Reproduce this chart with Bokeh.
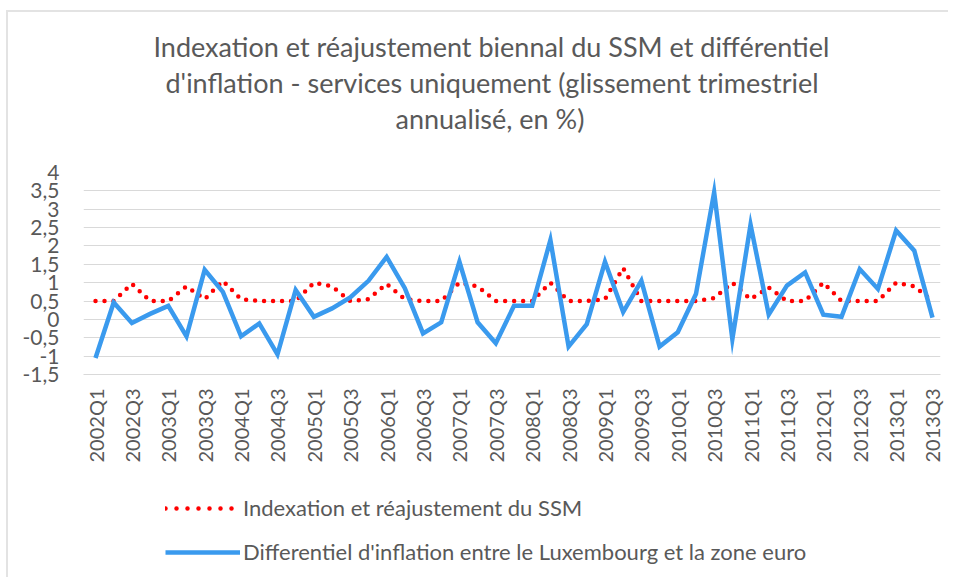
import math
from bokeh.plotting import figure
from bokeh.layouts import column
from bokeh.models import (Range1d, FixedTicker, CustomJSTickFormatter, Title,
                          Legend, LegendItem)
from bokeh.embed import file_html
from bokeh.resources import INLINE

quarters = ["2002Q1", "2002Q2", "2002Q3", "2002Q4",
            "2003Q1", "2003Q2", "2003Q3", "2003Q4",
            "2004Q1", "2004Q2", "2004Q3", "2004Q4",
            "2005Q1", "2005Q2", "2005Q3", "2005Q4",
            "2006Q1", "2006Q2", "2006Q3", "2006Q4",
            "2007Q1", "2007Q2", "2007Q3", "2007Q4",
            "2008Q1", "2008Q2", "2008Q3", "2008Q4",
            "2009Q1", "2009Q2", "2009Q3", "2009Q4",
            "2010Q1", "2010Q2", "2010Q3", "2010Q4",
            "2011Q1", "2011Q2", "2011Q3", "2011Q4",
            "2012Q1", "2012Q2", "2012Q3", "2012Q4",
            "2013Q1", "2013Q2", "2013Q3"]

ssm = [0.5, 0.5, 0.97, 0.5, 0.5, 0.9, 0.55, 1.05, 0.55, 0.5, 0.5, 0.5,
       1.0, 0.9, 0.5, 0.55, 0.97, 0.55, 0.5, 0.5, 1.0, 0.9, 0.5, 0.5,
       0.5, 1.0, 0.5, 0.5, 0.55, 1.4, 0.5, 0.5, 0.5, 0.5, 0.58, 1.0,
       0.55, 0.87, 0.5, 0.5, 1.0, 0.5, 0.5, 0.5, 1.0, 0.9, 0.5]

diff = [-1.05, 0.46, -0.1, 0.15, 0.37, -0.46, 1.35, 0.75, -0.46, -0.11,
        -0.95, 0.8, 0.07, 0.3, 0.6, 1.05, 1.7, 0.85, -0.38, -0.08, 1.57,
        -0.08, -0.65, 0.37, 0.37, 2.16, -0.74, -0.13, 1.57, 0.2, 1.05,
        -0.74, -0.35, 0.69, 3.46, -0.54, 2.58, 0.13, 0.92, 1.28, 0.13,
        0.07, 1.37, 0.83, 2.42, 1.87, 0.05]

y_ticks = [-1.5, -1, -0.5, 0, 0.5, 1, 1.5, 2, 2.5, 3, 3.5, 4]

title_lines = ["Indexation et réajustement biennal du SSM et différentiel",
               "d'inflation - services uniquement (glissement trimestriel",
               "annualisé, en %)"]

legend_labels = ["Indexation et réajustement du SSM",
                 "Differentiel d'inflation entre le Luxembourg et la zone euro"]

FONT = "Lato"
GREY = "#595959"
RED = "#ff0000"
BLUE = "#3a9aee"

x = list(range(len(quarters)))

p = figure(width=940, height=453, output_backend="svg", toolbar_location=None,
           x_range=Range1d(-0.66, 46.44), y_range=Range1d(-1.5, 4),
           min_border_left=75, min_border_right=8, min_border_top=160,
           min_border_bottom=90)
p.title = None
p.outline_line_color = None
p.background_fill_color = "white"
p.border_fill_color = "white"

# spacer between the title block and the plot area
p.add_layout(Title(text=" ", text_font=FONT, text_font_size="10px",
                   standoff=23), "above")
# title lines, closest to the plot first; left offsets center them on x~490
offsets = [70, 82, 312]
for line, off in reversed(list(zip(title_lines, offsets))):
    t = Title(text=line, align="left", offset=off, text_font=FONT,
              text_font_size="27px", text_font_style="normal", text_color=GREY,
              standoff=1)
    p.add_layout(t, "above")

p.line(x, ssm, line_color=RED, line_width=4.5, line_dash="0 9", line_cap="round")
p.line(x, diff, line_color=BLUE, line_width=4.5, line_join="miter")

p.xgrid.visible = False
p.ygrid.grid_line_color = "#d9d9d9"
p.ygrid.grid_line_width = 1

p.yaxis.ticker = FixedTicker(ticks=y_ticks)
p.yaxis.formatter = CustomJSTickFormatter(code="return tick.toString().replace('.', ',');")
p.yaxis.axis_line_color = None
p.yaxis.major_tick_line_color = None
p.yaxis.minor_tick_line_color = None
p.yaxis.major_label_text_font = FONT
p.yaxis.major_label_text_font_size = "21px"
p.yaxis.major_label_text_color = GREY
p.yaxis.major_label_standoff = 18

p.xaxis.ticker = FixedTicker(ticks=x[::2])
p.xaxis.major_label_overrides = {i: quarters[i] for i in x}
p.xaxis.major_label_orientation = math.pi / 2
p.xaxis.axis_line_color = "#d9d9d9"
p.xaxis.major_tick_line_color = None
p.xaxis.minor_tick_line_color = None
p.xaxis.major_label_text_font = FONT
p.xaxis.major_label_text_font_size = "20px"
p.xaxis.major_label_text_color = GREY
p.xaxis.major_label_standoff = 8

# legend strip below the chart (series drawn out of view, only the keys show)
lg = figure(width=940, height=112, output_backend="svg", toolbar_location=None,
            x_range=Range1d(1000, 1001), y_range=Range1d(1000, 1001),
            x_axis_location=None, y_axis_location=None, min_border=0)
lg.outline_line_color = None
lg.grid.visible = False
lg.background_fill_color = "white"
lg.border_fill_color = "white"
k_ssm = lg.line(x, ssm, line_color=RED, line_width=4.5, line_dash="0 11",
                line_cap="round")
k_diff = lg.line(x, diff, line_color=BLUE, line_width=4.5)
legend = Legend(items=[LegendItem(label=legend_labels[0], renderers=[k_ssm]),
                       LegendItem(label=legend_labels[1], renderers=[k_diff])],
                location=(82, 12), orientation="vertical", glyph_width=75,
                glyph_height=20, label_text_font=FONT, label_text_font_size="22px",
                label_text_color=GREY, label_standoff=3, spacing=17,
                border_line_color=None, padding=0, margin=0,
                background_fill_alpha=0)
lg.add_layout(legend, "center")

layout = column(p, lg, spacing=0,
                styles={"margin-left": "6px", "margin-top": "10px",
                        "border-left": "2px solid #e3e3e3",
                        "border-top": "2px solid #e3e3e3"})

open("out.html", "w").write(file_html(layout, INLINE))
